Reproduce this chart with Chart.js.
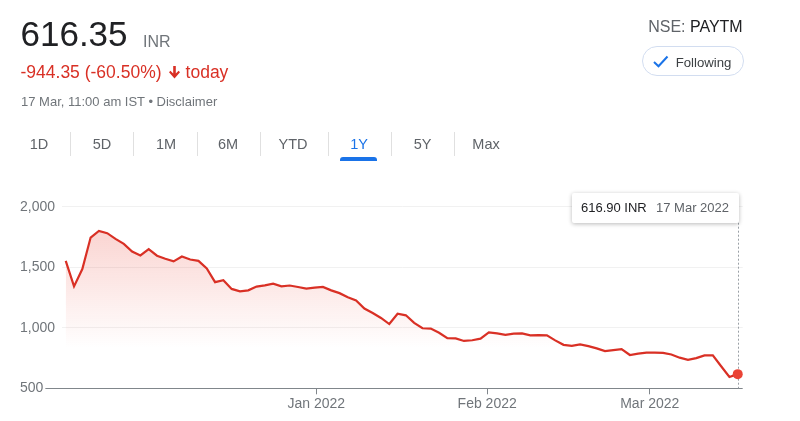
<!DOCTYPE html>
<html>
<head>
<meta charset="utf-8">
<script src="https://cdn.jsdelivr.net/npm/chart.js@4"></script>
<style>
  html, body { margin: 0; padding: 0; background: #fff; }
  body { width: 800px; height: 421px; position: relative; overflow: hidden;
         font-family: "Liberation Sans", Arial, sans-serif; }
  .abs { position: absolute; line-height: 1; white-space: nowrap; }
  #chart-wrap { position: absolute; left: 0; top: 0; width: 800px; height: 421px; }
  .tab { position: absolute; width: 60px; text-align: center; top: 137.4px;
         font-size: 14.5px; line-height: 1; color: #5f6368; }
  .sep { position: absolute; top: 132px; width: 1px; height: 24px; background: #e0e0e0; }
  #tip { position: absolute; left: 572px; top: 193px; width: 167px; height: 30px;
         background: #fff; box-shadow: 0 1px 4px rgba(0,0,0,0.28); border-radius: 2px;
         font-size: 13px; line-height: 30px; white-space: nowrap; }
</style>
</head>
<body>
<div id="chart-wrap"><canvas id="price-chart"></canvas></div>

<div class="abs" id="price" style="left:20.5px; top:16px; font-size:35px; color:#202124;"></div>
<div class="abs" id="currency" style="left:143px; top:33.6px; font-size:16px; color:#70757a;"></div>
<div class="abs" id="change" style="left:20.5px; top:64.2px; font-size:17.5px; color:#d93025;">
  <span id="change-text"></span><svg width="11" height="13" viewBox="0 0 11 13" style="margin:0 6px 0 7px; vertical-align:-1px;"><path d="M4.2 0 H6.8 V7.6 L9.6 4.8 L11 6.3 L5.5 12.5 L0 6.3 L1.4 4.8 L4.2 7.6 Z" fill="#d93025"/></svg>today
</div>
<div class="abs" id="stamp" style="left:21px; top:95px; font-size:13px; color:#70757a;"></div>

<div class="abs" style="right:57.3px; top:18.6px; font-size:16px;"><span style="color:#5f6368;">NSE:</span> <span id="ticker" style="color:#202124;"></span></div>
<div class="abs" style="left:641.7px; top:46px; width:100px; height:28px; border:1px solid #d2ddf0; border-radius:16px;">
  <svg width="16" height="14" viewBox="0 0 16 14" style="position:absolute; left:10px; top:8px;"><polyline points="1,7 5.5,11.3 14.5,1.5" fill="none" stroke="#1a73e8" stroke-width="2"/></svg>
  <span style="position:absolute; left:33px; top:8.5px; font-size:13.2px; color:#3c4043;">Following</span>
</div>

<div class="tab" style="left:9px;">1D</div>
<div class="tab" style="left:72px;">5D</div>
<div class="tab" style="left:136px;">1M</div>
<div class="tab" style="left:198px;">6M</div>
<div class="tab" style="left:263px;">YTD</div>
<div class="tab" style="left:329px; color:#1a73e8;">1Y</div>
<div class="tab" style="left:392.5px;">5Y</div>
<div class="tab" style="left:456px;">Max</div>
<div class="sep" style="left:70px;"></div>
<div class="sep" style="left:133px;"></div>
<div class="sep" style="left:196.5px;"></div>
<div class="sep" style="left:259.5px;"></div>
<div class="sep" style="left:327.5px;"></div>
<div class="sep" style="left:390.5px;"></div>
<div class="sep" style="left:454px;"></div>
<div style="position:absolute; left:340px; top:157.3px; width:37px; height:3.5px; background:#1a73e8; border-radius:3px 3px 0 0;"></div>

<div id="tip"><span id="tip-price" style="position:absolute; left:9px; color:#202124;"></span><span id="tip-date" style="position:absolute; left:84px; color:#5f6368;"></span></div>

<script>
// header numbers
const ticker = "PAYTM";
const currency = "INR";
const currentPrice = 616.35;
const changeValue = -944.35;
const changePct = -60.5;
const stampText = "17 Mar, 11:00 am IST \u2022 Disclaimer";

// daily closes from listing (18 Nov 2021) to 17 Mar 2022, one per session
const prices = [
  1553, 1342, 1485, 1745, 1800, 1781, 1734, 1693, 1630, 1597,
  1650, 1595, 1570, 1548, 1589, 1564, 1553, 1490, 1377, 1393,
  1321, 1301, 1309, 1340, 1350, 1364, 1342, 1349, 1337, 1323,
  1331, 1337, 1309, 1286, 1252, 1226, 1159, 1122, 1081, 1031,
  1116, 1103, 1041, 996, 993, 959, 914, 912, 891, 897,
  910, 961, 953, 942, 951, 953, 937, 939, 937, 896,
  859, 850, 863, 848, 830, 807, 816, 823, 775, 786,
  794, 794, 793, 779, 753, 735, 749, 772, 772, 682,
  594, 616.9,
];
const lastDate = "17 Mar 2022";

// x-axis month labels and the session position where each month starts
const tickLabels = ["Jan 2022", "Feb 2022", "Mar 2022"];
const tickSessions = [30.2, 50.8, 70.4];
const yTicks = [500, 1000, 1500, 2000];

const lineColor = "#d93025";
const fmt = (v) => v.toLocaleString("en-US", { minimumFractionDigits: 2, maximumFractionDigits: 2 });

document.getElementById("price").textContent = fmt(currentPrice);
document.getElementById("currency").textContent = currency;
document.getElementById("change-text").textContent = `${fmt(changeValue)} (${fmt(changePct)}%)`;
document.getElementById("stamp").textContent = stampText;
document.getElementById("ticker").textContent = ticker;
document.getElementById("tip-price").textContent = `${fmt(prices[prices.length - 1])} ${currency}`;
document.getElementById("tip-date").textContent = lastDate;

const lastIdx = prices.length - 1;
const points = prices.map((p, i) => ({ x: i, y: p }));

// baseline under the chart plus the dotted hover line at the last session
const extras = {
  id: "extras",
  afterDatasetsDraw(chart) {
    const { ctx, chartArea, scales } = chart;
    const y0 = Math.round(scales.y.getPixelForValue(yTicks[0])) + 0.5;
    ctx.save();
    ctx.font = "14px 'Liberation Sans', Arial, sans-serif";
    const labelEnd = scales.y.left + ctx.measureText("500").width + 2;
    ctx.strokeStyle = "#80868b";
    ctx.lineWidth = 1;
    ctx.beginPath();
    ctx.moveTo(labelEnd, y0);
    ctx.lineTo(chartArea.right, y0);
    ctx.stroke();

    const xl = Math.round(scales.x.getPixelForValue(lastIdx)) + 0.5;
    ctx.strokeStyle = "#9aa0a6";
    ctx.setLineDash([2, 2]);
    ctx.beginPath();
    ctx.moveTo(xl, chartArea.top);
    ctx.lineTo(xl, chartArea.bottom);
    ctx.stroke();
    ctx.restore();

    // redraw the end dot on top of the dotted line
    const meta = chart.getDatasetMeta(0);
    const pt = meta.data[lastIdx];
    ctx.save();
    ctx.fillStyle = "#ea4335";
    ctx.beginPath();
    ctx.arc(pt.x, pt.y, 5, 0, Math.PI * 2);
    ctx.fill();
    ctx.restore();
  },
};

const ctxEl = document.getElementById("price-chart");
new Chart(ctxEl, {
  type: "line",
  data: {
    datasets: [
      {
        data: points,
        borderColor: lineColor,
        borderWidth: 2.2,
        tension: 0,
        pointRadius: 0,
        fill: "start",
        backgroundColor: (c) => {
          const area = c.chart.chartArea;
          if (!area) return "rgba(234,67,53,0.2)";
          const g = c.chart.ctx.createLinearGradient(0, area.top, 0, area.bottom);
          g.addColorStop(0, "rgba(234,67,53,0.27)");
          g.addColorStop(0.78, "rgba(234,67,53,0)");
          return g;
        },
      },
    ],
  },
  options: {
    responsive: true,
    maintainAspectRatio: false,
    animation: false,
    events: [],
    layout: { padding: { top: 206.7, left: 20, right: 57.3, bottom: 7.9 } },
    scales: {
      x: {
        type: "linear",
        min: -0.45,
        max: 81.6,
        afterBuildTicks: (scale) => {
          scale.ticks = tickSessions.map((v) => ({ value: v }));
        },
        ticks: {
          autoSkip: false,
          maxRotation: 0,
          padding: 1,
          color: "#70757a",
          font: { family: "'Liberation Sans', Arial, sans-serif", size: 14 },
          callback: (v, i) => tickLabels[i],
        },
        grid: { drawOnChartArea: false, drawTicks: true, tickLength: 6, color: "#80868b" },
        border: { display: false },
      },
      y: {
        min: 500,
        max: 2000,
        afterFit: (scale) => {
          scale.width = 42;
        },
        afterBuildTicks: (scale) => {
          scale.ticks = yTicks.map((v) => ({ value: v }));
        },
        ticks: {
          crossAlign: "far",
          padding: 0,
          color: "#70757a",
          font: { family: "'Liberation Sans', Arial, sans-serif", size: 14 },
          callback: (v) => v.toLocaleString("en-US"),
        },
        grid: {
          drawTicks: false,
          color: (c) => (c.tick && c.tick.value === yTicks[0] ? "rgba(0,0,0,0)" : "#f1f1f1"),
        },
        border: { display: false },
      },
    },
    plugins: { legend: { display: false }, tooltip: { enabled: false } },
  },
  plugins: [extras],
});
</script>
</body>
</html>
